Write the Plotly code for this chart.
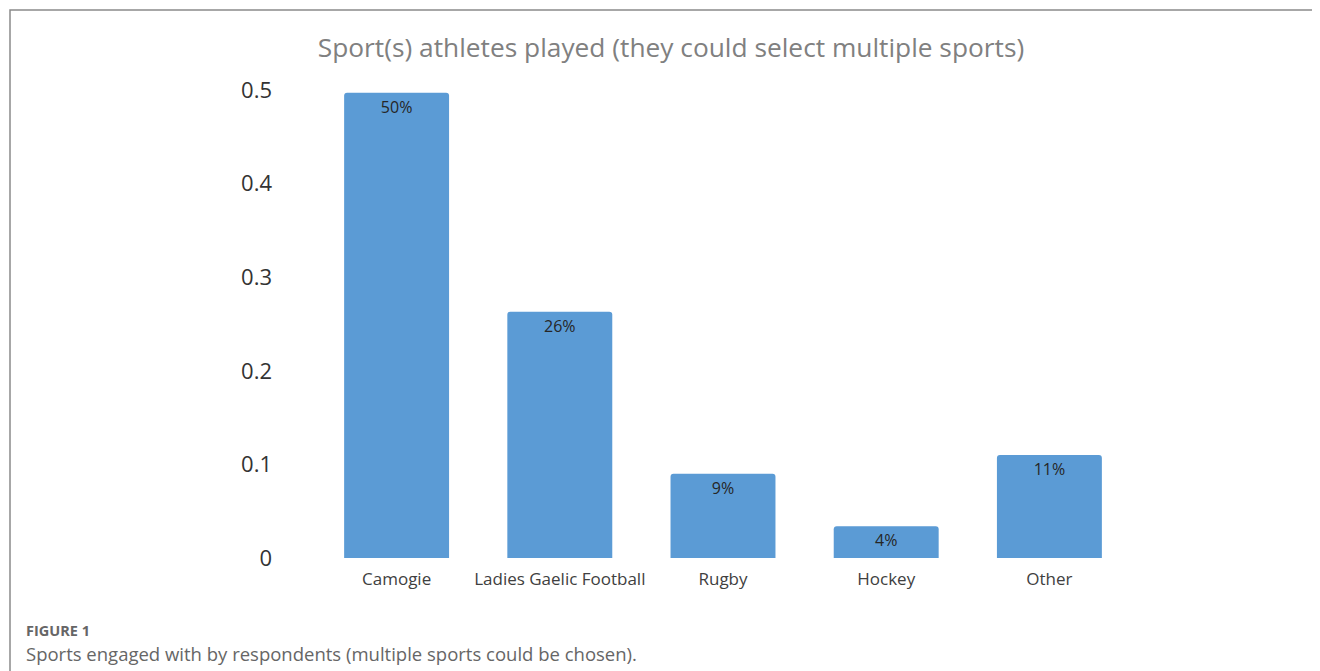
import plotly.graph_objects as go

categories = ["Camogie", "Ladies Gaelic Football", "Rugby", "Hockey", "Other"]
values = [0.497, 0.263, 0.090, 0.034, 0.110]
labels = ["50%", "26%", "9%", "4%", "11%"]
tick_vals = [0, 0.1, 0.2, 0.3, 0.4, 0.5]
tick_text = ["0", "0.1", "0.2", "0.3", "0.4", "0.5"]

# page body has an 8px margin: figure coords = screen coords - 8
OFF = 8
L, R, T, B = 315 - OFF, 1131 - OFF, 90 - OFF, 558 - OFF
W, H = 1320, 671
PW, PH = R - L, B - T

def px(x):
    return (x - OFF - L) / PW

def py(y):
    return (B - (y - OFF)) / PH

fig = go.Figure(go.Bar(
    x=categories, y=values, text=labels,
    textposition="inside", insidetextanchor="end",
    textfont=dict(family="Open Sans", size=16, color="#262626"),
    marker=dict(color="#5B9BD5", line=dict(width=0)),
    hoverinfo="skip",
))

fig.update_layout(
    width=W, height=H,
    margin=dict(l=L, r=W - R, t=T, b=H - B),
    paper_bgcolor="white", plot_bgcolor="white",
    bargap=0.357, barcornerradius=3,
    showlegend=False,
    font=dict(family="Open Sans"),
    title=dict(text="Sport(s) athletes played (they could select multiple sports)",
               x=px(671), xref="paper", xanchor="center",
               y=1 - (48 - OFF) / H, yanchor="middle",
               font=dict(family="Open Sans", size=26.3, color="#808080")),
)
fig.update_yaxes(range=[0, 0.5], tickvals=tick_vals, ticktext=tick_text,
                 showgrid=False, zeroline=False, showline=False,
                 ticks="", ticklabelstandoff=42,
                 tickfont=dict(family="Open Sans", size=22, color="#333333"))
fig.update_xaxes(showgrid=False, showline=False, ticks="", ticklabelstandoff=9,
                 tickfont=dict(family="Open Sans", size=17, color="#404040"))

fig.add_shape(type="rect", xref="paper", yref="paper",
              x0=px(10), x1=px(1340),
              y0=py(700), y1=py(10),
              line=dict(color="#8a8a8a", width=1.5), fillcolor="rgba(0,0,0,0)", layer="below")

fig.add_annotation(text="<b>FIGURE 1</b>", xref="paper", yref="paper",
                   x=px(24), y=py(630), xanchor="left", yanchor="middle",
                   showarrow=False, font=dict(family="Open Sans", size=14.5, color="#666666"))
fig.add_annotation(text="Sports engaged with by respondents (multiple sports could be chosen).",
                   xref="paper", yref="paper",
                   x=px(24), y=py(653), xanchor="left", yanchor="middle",
                   showarrow=False, font=dict(family="Open Sans", size=18.5, color="#666666"))

fig.write_html("out.html")
